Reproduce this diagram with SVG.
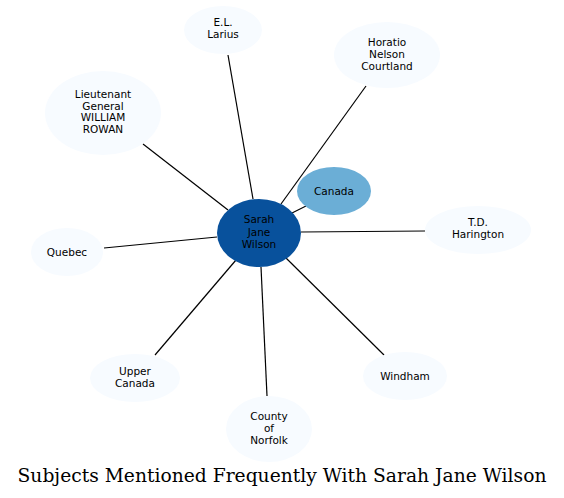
<svg xmlns="http://www.w3.org/2000/svg" width="564" height="498" viewBox="0 0 564 498">
<style>
.n text{font-family:"DejaVu Sans",sans-serif;font-size:10.5px;text-anchor:middle;fill:#000}
.lt{fill:#f7fbff}
.e line{stroke:#000;stroke-width:1.2}
.title{font-family:"DejaVu Serif",serif;font-size:18.7px;text-anchor:middle;fill:#000}
</style>
<rect width="564" height="498" fill="#fff"/>
<g class="e" id="edges">
<line x1="253" y1="199" x2="228" y2="55"/>
<line x1="281" y1="204" x2="366" y2="86"/>
<line x1="228" y1="210" x2="143" y2="144"/>
<line x1="292" y1="213" x2="306" y2="206"/>
<line x1="301" y1="232" x2="425" y2="231"/>
<line x1="217" y1="237" x2="104" y2="248"/>
<line x1="236" y1="260" x2="155" y2="355"/>
<line x1="261" y1="267" x2="267" y2="396"/>
<line x1="286" y1="258" x2="384" y2="355"/>
</g>
<g class="n" id="sarah"><ellipse cx="259" cy="233" rx="42" ry="34" fill="#08519c"/><text x="259" y="223">Sarah</text><text x="259" y="236">Jane</text><text x="259" y="248">Wilson</text></g>
<g class="n" id="canada"><ellipse cx="334" cy="191" rx="37" ry="24" fill="#6baed6"/><text x="334" y="195">Canada</text></g>
<g class="n" id="larius"><ellipse class="lt" cx="223" cy="30" rx="39" ry="24"/><text x="223" y="26">E.L.</text><text x="223" y="38">Larius</text></g>
<g class="n" id="horatio"><ellipse class="lt" cx="387" cy="55" rx="53" ry="33"/><text x="387" y="46">Horatio</text><text x="387" y="58">Nelson</text><text x="387" y="70">Courtland</text></g>
<g class="n" id="rowan"><ellipse class="lt" cx="103" cy="113" rx="58" ry="42"/><text x="103" y="98">Lieutenant</text><text x="103" y="110">General</text><text x="103" y="121">WILLIAM</text><text x="103" y="133">ROWAN</text></g>
<g class="n" id="harington"><ellipse class="lt" cx="478" cy="230" rx="53" ry="24"/><text x="478" y="226">T.D.</text><text x="478" y="238">Harington</text></g>
<g class="n" id="quebec"><ellipse class="lt" cx="67" cy="252" rx="36" ry="24"/><text x="67" y="256">Quebec</text></g>
<g class="n" id="upper"><ellipse class="lt" cx="135" cy="378" rx="45" ry="24"/><text x="135" y="375">Upper</text><text x="135" y="387">Canada</text></g>
<g class="n" id="norfolk"><ellipse class="lt" cx="269" cy="429" rx="43" ry="33"/><text x="269" y="420">County</text><text x="269" y="432">of</text><text x="269" y="444">Norfolk</text></g>
<g class="n" id="windham"><ellipse class="lt" cx="405" cy="376" rx="42" ry="24"/><text x="405" y="380">Windham</text></g>
<text class="title" x="282" y="482">Subjects Mentioned Frequently With Sarah Jane Wilson</text>
</svg>
